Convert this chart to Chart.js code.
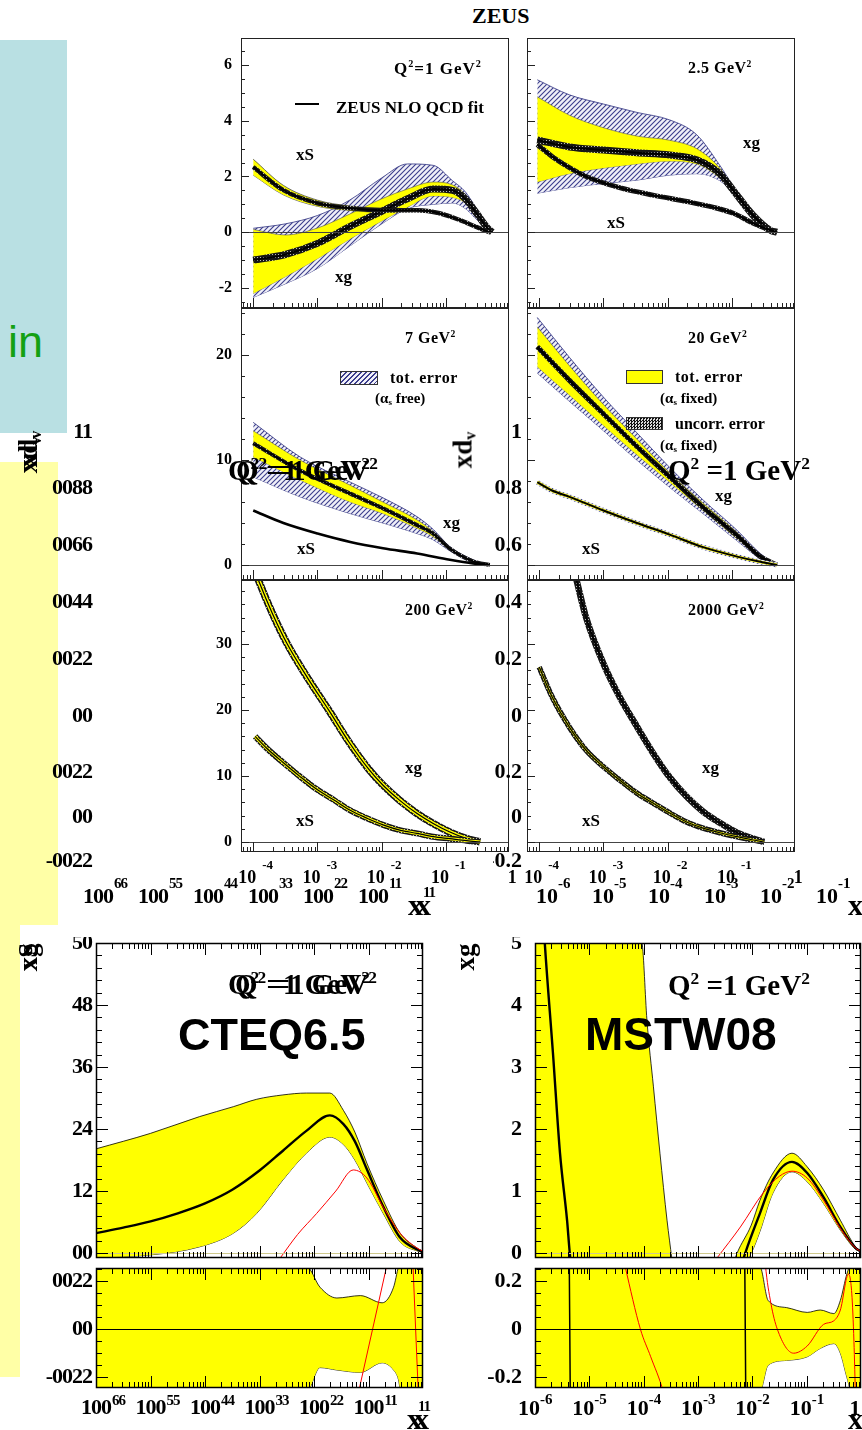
<!DOCTYPE html>
<html lang="en">
<head>
<meta charset="utf-8">
<title>ZEUS / CTEQ6.5 / MSTW08 gluon distributions</title>
<script src="https://cdn.jsdelivr.net/npm/chart.js@4.4.1/dist/chart.umd.min.js"></script>
<style>
html,body{margin:0;padding:0;width:862px;height:1430px;overflow:hidden;background:#fff;position:relative;}
canvas{position:absolute;display:block;}
.t{position:absolute;white-space:nowrap;line-height:1;font-family:"Liberation Serif","Times New Roman",serif;font-weight:bold;color:#000;}
.s{font-size:.6em;position:relative;top:-.6em;}
.u{font-size:.6em;position:relative;top:.25em;}
.box{position:absolute;}
</style>
</head>
<body>
<script>
// ---------------- DATA (x given as log10(x)) ----------------
// ZEUS panel Q2 = 1 GeV2
const zA_xS_lx = [-4.0, -3.53, -3.0, -2.49, -1.98, -1.45, -1.1, -0.78, -0.52, -0.32];
const zA_xS    = [2.34, 1.51, 1.04, 0.86, 0.79, 0.79, 0.68, 0.43, 0.18, 0.0];
const zA_xS_hi = [2.62, 1.68, 1.15, 0.94, 0.86, 0.84, 0.72, 0.47, 0.2, 0.0];
const zA_xS_lo = [2.05, 1.34, 0.93, 0.78, 0.72, 0.74, 0.64, 0.39, 0.16, 0.0];
const zA_xg_lx = [-4.0, -3.5, -3.0, -2.5, -2.0, -1.6, -1.2, -0.9, -0.7, -0.5, -0.35, -0.28];
const zA_xg     = [-1.0, -0.8, -0.4, 0.2, 0.75, 1.2, 1.55, 1.5, 1.2, 0.6, 0.14, 0.0];
const zA_xg_yhi = [0.1, -0.1, 0.15, 0.65, 1.2, 1.55, 1.8, 1.7, 1.35, 0.7, 0.18, 0.0];
const zA_xg_ylo = [-2.2, -1.6, -0.95, -0.25, 0.4, 0.9, 1.3, 1.25, 1.05, 0.5, 0.1, 0.0];
const zA_xg_thi = [0.14, 0.3, 0.6, 1.15, 1.95, 2.45, 2.4, 1.85, 1.45, 0.75, 0.2, 0.0];
const zA_xg_tlo = [-2.34, -1.85, -1.3, -0.5, 0.3, 0.85, 1.0, 1.05, 0.85, 0.4, 0.08, 0.0];
// ZEUS panel 2.5 GeV2
const zB_xg_lx  = [-4.03, -3.53, -3.0, -2.48, -1.97, -1.55, -1.19, -0.98, -0.67, -0.4, -0.3];
const zB_xg     = [3.31, 3.06, 2.95, 2.85, 2.77, 2.6, 2.1, 1.5, 0.6, 0.06, 0.0];
const zB_xg_yhi = [4.86, 4.2, 3.75, 3.45, 3.3, 3.0, 2.3, 1.6, 0.65, 0.07, 0.0];
const zB_xg_ylo = [1.8, 2.1, 2.3, 2.45, 2.55, 2.45, 1.95, 1.45, 0.56, 0.05, 0.0];
const zB_xg_thi = [5.47, 4.93, 4.6, 4.3, 4.03, 3.5, 2.4, 1.65, 0.68, 0.08, 0.0];
const zB_xg_tlo = [1.4, 1.6, 1.75, 1.87, 2.05, 2.1, 1.85, 1.4, 0.54, 0.04, 0.0];
const zB_xS_lx  = [-4.03, -3.8, -3.53, -3.27, -2.75, -2.23, -1.7, -1.3, -0.98, -0.67, -0.4, -0.3];
const zB_xS     = [3.15, 2.72, 2.32, 2.0, 1.6, 1.33, 1.1, 0.9, 0.68, 0.32, 0.07, 0.0];
// ZEUS panel 7 GeV2
const zC_xg_lx  = [-4.0, -3.27, -2.49, -1.98, -1.45, -1.2, -0.94, -0.58, -0.32];
const zC_xg     = [11.6, 9.0, 6.8, 5.4, 3.8, 3.0, 1.55, 0.35, 0.0];
const zC_xg_yhi = [12.8, 10.0, 7.6, 6.0, 4.3, 3.2, 1.65, 0.45, 0.0];
const zC_xg_ylo = [10.3, 8.1, 6.0, 4.9, 3.5, 2.7, 1.45, 0.3, 0.0];
const zC_xg_thi = [13.6, 10.3, 7.9, 6.4, 4.6, 3.4, 1.75, 0.5, 0.0];
const zC_xg_tlo = [8.4, 6.5, 4.9, 4.0, 3.0, 2.4, 1.35, 0.2, 0.0];
const zC_xS_lx  = [-4.0, -3.53, -3.0, -2.49, -1.98, -1.45, -0.94, -0.58, -0.32];
const zC_xS     = [5.2, 4.0, 3.0, 2.2, 1.6, 1.1, 0.5, 0.15, 0.0];
// ZEUS panel 20 GeV2
const zD_xg_lx  = [-4.03, -3.53, -3.0, -2.48, -1.97, -1.45, -0.92, -0.56, -0.3];
const zD_xg     = [20.8, 17.6, 14.4, 11.3, 8.4, 5.5, 2.8, 0.8, 0.0];
const zD_xg_yhi = [22.7, 19.0, 15.3, 12.0, 8.8, 5.9, 3.1, 1.0, 0.0];
const zD_xg_ylo = [18.9, 16.2, 13.3, 10.5, 7.9, 5.2, 2.5, 0.7, 0.0];
const zD_xg_thi = [23.6, 19.8, 16.0, 12.6, 9.3, 6.2, 3.3, 1.1, 0.0];
const zD_xg_tlo = [18.3, 15.6, 12.8, 10.0, 7.4, 4.9, 2.3, 0.6, 0.0];
const zD_xS_lx  = [-4.03, -3.8, -3.53, -3.0, -2.48, -1.97, -1.45, -0.92, -0.56, -0.3];
const zD_xS     = [7.9, 7.1, 6.5, 5.2, 4.0, 2.9, 1.7, 0.8, 0.3, 0.0];
// ZEUS panel 200 GeV2
const zE_xg_lx = [-4.0, -3.92, -3.7, -3.47, -3.15, -2.82, -2.5, -2.2, -1.98, -1.72, -1.45, -1.2, -0.94, -0.68, -0.47];
const zE_xg    = [41.8, 39.7, 34.6, 30.0, 24.8, 19.9, 15.0, 11.0, 8.6, 6.3, 4.3, 2.8, 1.5, 0.5, 0.0];
const zE_xS_lx = [-3.97, -3.79, -3.53, -3.27, -3.0, -2.75, -2.49, -2.23, -1.98, -1.72, -1.45, -1.2, -0.94, -0.68, -0.47];
const zE_xS    = [16.0, 14.2, 12.0, 9.9, 7.9, 6.4, 4.8, 3.6, 2.6, 1.8, 1.3, 0.8, 0.5, 0.2, 0.0];
// ZEUS panel 2000 GeV2
const zF_xg_lx = [-3.5, -3.42, -3.27, -3.0, -2.75, -2.48, -2.23, -1.97, -1.7, -1.45, -1.19, -0.92, -0.67, -0.5];
const zF_xg    = [42.8, 39.7, 34.0, 27.0, 22.0, 17.5, 13.5, 9.8, 6.8, 4.6, 2.9, 1.4, 0.5, 0.0];
const zF_xS_lx = [-4.0, -3.8, -3.53, -3.27, -3.0, -2.75, -2.48, -2.23, -1.97, -1.7, -1.45, -1.19, -0.92, -0.67, -0.5];
const zF_xS    = [26.5, 22.0, 17.4, 13.9, 11.4, 9.4, 7.4, 5.9, 4.4, 3.0, 2.1, 1.4, 0.8, 0.3, 0.0];

// CTEQ6.5 xg, Q2 = 1 GeV2
const ctCX  = [-6.0, -5.5, -5.0, -4.5, -4.0, -3.5, -3.0, -2.57, -2.14, -1.71, -1.46, -1.25, -1.03, -0.73, -0.42, -0.09, 0.0];
const ctXg  = [0.32, 0.41, 0.51, 0.64, 0.8, 1.02, 1.33, 1.65, 1.97, 2.22, 2.08, 1.8, 1.35, 0.75, 0.25, 0.05, 0.02];
const ctX   = [-6.0, -5.0, -4.1, -3.48, -3.05, -2.57, -2.14, -1.71, -1.46, -1.25, -1.03, -0.73, -0.42, -0.09, 0.0];
const ctHi  = [1.68, 1.93, 2.2, 2.36, 2.48, 2.55, 2.58, 2.58, 2.3, 1.95, 1.45, 0.85, 0.32, 0.07, 0.03];
const ctLo  = [-0.07, -0.03, 0.1, 0.32, 0.64, 1.18, 1.61, 1.87, 1.75, 1.5, 1.13, 0.64, 0.18, 0.03, 0.01];
const ctRedX = [-2.62, -2.3, -1.95, -1.6, -1.28, -1.03, -0.73, -0.42, -0.09, 0.0];
const ctRed  = [-0.08, 0.3, 0.64, 1.0, 1.34, 1.21, 0.74, 0.32, 0.07, 0.03];
const ctrX  = [-6.0, -2.13, -1.89, -1.58, -1.15, -0.75, -0.54, -0.45, -0.38, 0.0];
const ctrHi = [0.3, 0.26, 0.175, 0.13, 0.14, 0.11, 0.175, 0.26, 0.3, 0.3];
const ctrLo = [-0.3, -0.26, -0.16, -0.17, -0.18, -0.14, -0.17, -0.21, -0.3, -0.3];
const ctrRed1X = [-1.22, -0.63]; const ctrRed1 = [-0.3, 0.3];
const ctrRed2X = [-0.19, -0.08]; const ctrRed2 = [0.3, -0.3];

// MSTW08 xg, Q2 = 1 GeV2
const msBandX  = [-6.0, -4.03, -3.94, -3.82, -3.7, -3.57, -3.48];
const msBandHi = [8.0, 5.0, 3.76, 2.68, 1.61, 0.53, -0.1];
const msBandLo = [-0.5, -0.5, -0.5, -0.5, -0.5, -0.5, -0.5];
const msX  = [-5.9, -5.82, -5.67, -5.54, -5.41, -5.36, -5.25, -4.5, -3.5, -2.6, -2.2, -2.13, -1.86, -1.62, -1.27, -0.99, -0.69, -0.38, -0.1, 0.0];
const msXg = [6.2, 5.0, 3.23, 1.61, 0.53, 0.0, -0.8, -3.0, -3.0, -1.5, -0.2, 0.0, 0.64, 1.18, 1.47, 1.29, 0.9, 0.42, 0.08, 0.03];
const msBumpX  = [-2.4, -2.28, -2.02, -1.86, -1.62, -1.27, -0.99, -0.69, -0.38, -0.1, 0.0];
const msBumpHi = [-0.3, 0.0, 0.45, 0.85, 1.29, 1.61, 1.39, 1.02, 0.53, 0.1, 0.03];
const msBumpLo = [-0.5, -0.3, 0.0, 0.35, 0.97, 1.31, 1.15, 0.8, 0.37, 0.06, 0.02];
const msRedX = [-2.65, -2.22, -1.8, -1.5, -1.27, -0.99, -0.69, -0.38, -0.1, 0.0];
const msRed  = [-0.08, 0.42, 0.97, 1.24, 1.32, 1.21, 0.85, 0.4, 0.08, 0.03];
const msrX  = [-6.0, -1.86, -1.71, -1.37, -0.99, -0.75, -0.5, -0.38, -0.26, -0.12, 0.0];
const msrHi = [0.3, 0.26, 0.12, 0.09, 0.07, 0.08, 0.065, 0.12, 0.23, 0.3, 0.3];
const msrLo = [-0.3, -0.26, -0.15, -0.13, -0.115, -0.08, -0.06, -0.1, -0.2, -0.3, -0.3];
const msrV1X = [-5.37, -5.35]; const msrV1 = [0.3, -0.3];
const msrV2X = [-2.14, -2.12]; const msrV2 = [0.3, -0.3];
const msrRed1X = [-4.4, -4.34, -4.06, -3.87, -3.64, -3.6];
const msrRed1  = [0.32, 0.26, 0.0, -0.115, -0.26, -0.3];
const msrRed2X = [-1.8, -1.76, -1.66, -1.54, -1.24, -0.99, -0.69, -0.5, -0.38, -0.23, -0.17, -0.13, -0.1];
const msrRed2  = [0.4, 0.27, 0.11, 0.0, -0.1, -0.07, 0.02, 0.035, 0.08, 0.23, 0.15, -0.05, -0.3];

// ---------------- TICK LABELS ----------------
const zYTicks  = [[6, 4, 2, 0, -2], [20, 10, 0], [30, 20, 10, 0]];
const zYLabels = [['6', '4', '2', '0', '-2'], ['20', '10', '0'], ['30', '20', '10', '0']];
const zXTicks = [1e-4, 1e-3, 1e-2, 1e-1, 1];
const zXBase  = ['10', '10', '10', '10', '1'];
const zXSup   = ['-4', '-3', '-2', '-1', ''];
const bXTicks = [1e-6, 1e-5, 1e-4, 1e-3, 1e-2, 1e-1, 1];
const msXBase = ['10', '10', '10', '10', '10', '10', '1'];
const msXSup  = ['-6', '-5', '-4', '-3', '-2', '-1', ''];
const ctXBase = ['100', '100', '100', '100', '100', '100', ''];
const ctXSup  = ['66', '55', '44', '33', '22', '11', '11'];
const mainYTicks = [5, 4, 3, 2, 1, 0];
const msYLabels  = ['5', '4', '3', '2', '1', '0'];
const ctYLabels  = ['50', '48', '36', '24', '12', '00'];
const ratioYTicks = [0.2, 0, -0.2];
const msrYLabels  = ['0.2', '0', '-0.2'];
const ctrYLabels  = ['0022', '00', '-0022'];
const ghostYTicks = [1, 0.8, 0.6, 0.4, 0.2, 0];
const grYLabels   = ['1', '0.8', '0.6', '0.4', '0.2', '0'];
const glYLabels   = ['11', '0088', '0066', '0044', '0022', '00'];

// ---------------- HELPERS ----------------
const F = '"Liberation Serif","Times New Roman",serif';
const SANS = '"Liberation Sans",Arial,sans-serif';
const YEL = '#ffff00', K = '#000', NONE = 'rgba(0,0,0,0)';
function P(lx, ys) { return lx.map((v, i) => ({ x: Math.pow(10, v), y: ys[i] })); }
function ln(data, color, width, extra) {
  return Object.assign({ data, borderColor: color, borderWidth: width, backgroundColor: NONE, fill: false,
    pointRadius: 0, pointHoverRadius: 0, clip: 0, cubicInterpolationMode: 'monotone', borderJoinStyle: 'round' }, extra || {});
}
function band(hi, lo, bg, edge, ew) { return [ln(hi, edge, ew, { fill: '+1', backgroundColor: bg }), ln(lo, edge, ew)]; }
function mkPat(w, h, draw) {
  const c = document.createElement('canvas'); c.width = w; c.height = h;
  const g = c.getContext('2d'); draw(g); return g.createPattern(c, 'repeat');
}
const hatch = mkPat(5, 5, g => {
  g.fillStyle = '#f0f0f8'; g.fillRect(0, 0, 5, 5);
  g.strokeStyle = '#3b3d8c'; g.lineWidth = 1.1; g.beginPath();
  g.moveTo(-1, 6); g.lineTo(6, -1); g.moveTo(-1, 1); g.lineTo(1, -1); g.moveTo(4, 6); g.lineTo(6, 4); g.stroke();
});
const checker = mkPat(3, 3, g => { g.fillStyle = '#161616'; g.fillRect(0, 0, 3, 3); g.fillStyle = '#b8b8b8'; g.fillRect(1, 1, 1, 1); });

const decoPlugin = {
  id: 'deco',
  afterDatasetsDraw(chart) {
    const o = chart.canvas._deco; if (!o) return;
    const ctx = chart.ctx, a = chart.chartArea, x = chart.scales.x, y = chart.scales.y;
    ctx.save();
    if (o.zero) {
      const py = Math.round(y.getPixelForValue(0)) + 0.5;
      ctx.strokeStyle = o.zero; ctx.lineWidth = 1;
      ctx.beginPath(); ctx.moveTo(a.left, py); ctx.lineTo(a.right, py); ctx.stroke();
    }
    const fc = o.frame || '#000';
    if (o.xt) {
      ctx.strokeStyle = fc; ctx.lineWidth = 1; ctx.beginPath();
      const e0 = Math.floor(Math.log10(x.min)), e1 = Math.ceil(Math.log10(x.max));
      for (let e = e0; e <= e1; e++) for (let m = 1; m <= 9; m++) {
        const v = m * Math.pow(10, e);
        if (v < x.min * 1.0001 || v > x.max * 0.9999) continue;
        const px = Math.round(x.getPixelForValue(v)) + 0.5;
        const L = m === 1 ? o.xt[0] : o.xt[1];
        ctx.moveTo(px, a.bottom); ctx.lineTo(px, a.bottom - L);
        if (o.xtTop) { ctx.moveTo(px, a.top); ctx.lineTo(px, a.top + L); }
      }
      ctx.stroke();
    }
    if (o.yt) {
      const st = o.yt[0], mj = o.yt[1];
      ctx.strokeStyle = fc; ctx.lineWidth = 1; ctx.beginPath();
      for (let k = Math.ceil(y.min / st - 1e-6); k * st <= y.max + 1e-9; k++) {
        const v = k * st, r = v / mj;
        const L = Math.abs(r - Math.round(r)) < 1e-6 ? o.yt[2] : o.yt[3];
        const py = Math.round(y.getPixelForValue(v)) + 0.5;
        ctx.moveTo(a.left, py); ctx.lineTo(a.left + L, py);
        if (o.ytRight) { ctx.moveTo(a.right, py); ctx.lineTo(a.right - L, py); }
      }
      ctx.stroke();
    }
    if (o.frame) {
      ctx.strokeStyle = o.frame; ctx.lineWidth = o.fw || 1;
      ctx.strokeRect(a.left + 0.5, a.top + 0.5, a.right - a.left - 1, a.bottom - a.top - 1);
    }
    ctx.fillStyle = '#000'; ctx.textBaseline = 'middle';
    if (o.yl) {
      ctx.font = o.yl.font; ctx.textAlign = 'right';
      ctx.letterSpacing = o.yl.ls || '0px';
      o.yl.v.forEach((v, i) => ctx.fillText(o.yl.t[i], a.left - o.yl.gap, y.getPixelForValue(v)));
      ctx.letterSpacing = '0px';
    }
    if (o.xl) {
      const L = o.xl;
      ctx.letterSpacing = L.ls || '0px';
      L.v.forEach((v, i) => {
        const px = x.getPixelForValue(v);
        if (L.b[i]) {
          ctx.font = L.font; ctx.textAlign = 'center';
          ctx.fillText(L.b[i], px + (L.s[i] ? L.bdx : L.bdx1), a.bottom + L.dy);
        }
        if (L.s[i]) {
          ctx.font = L.sfont;
          if (L.b[i]) { ctx.textAlign = 'left'; ctx.fillText(L.s[i], px + L.sdx, a.bottom + L.sdy); }
          else { ctx.textAlign = 'center'; ctx.fillText(L.s[i], px + L.s1dx, a.bottom + L.s1dy); }
        }
      });
      ctx.letterSpacing = '0px';
    }
    ctx.restore();
  }
};

function mk(f, pad, datasets, xmin, xmax, ymin, ymax, deco) {
  const c = document.createElement('canvas');
  const W = f.r - f.l + pad[0] + pad[2], H = f.b - f.t + pad[1] + pad[3];
  c.width = W; c.height = H;
  c.style.left = (f.l - pad[0]) + 'px'; c.style.top = (f.t - pad[1]) + 'px';
  c.style.width = W + 'px'; c.style.height = H + 'px';
  c._deco = deco;
  document.body.appendChild(c);
  return new Chart(c, {
    type: 'line',
    data: { datasets },
    options: {
      responsive: false, animation: false, devicePixelRatio: 1, events: [],
      layout: { padding: { left: pad[0], top: pad[1], right: pad[2], bottom: pad[3] } },
      scales: {
        x: { type: 'logarithmic', min: xmin, max: xmax, display: false, bounds: 'data' },
        y: { type: 'linear', min: ymin, max: ymax, display: false, bounds: 'data' }
      },
      plugins: { legend: { display: false }, tooltip: { enabled: false } },
      elements: { point: { radius: 0 } }
    },
    plugins: [decoPlugin]
  });
}
function box(l, t, w, h, css) {
  const d = document.createElement('div'); d.className = 'box';
  d.style.cssText += `left:${l}px;top:${t}px;width:${w}px;height:${h}px;` + css;
  document.body.appendChild(d);
}
const S = t => `<span class="s">${t}</span>`;
const U = t => `<span class="u">${t}</span>`;
function T(html, x, yc, size, o) {
  o = o || {};
  const d = document.createElement('div'); d.className = 't'; d.innerHTML = html;
  d.style.fontSize = size + 'px';
  if (o.ff) d.style.fontFamily = o.ff;
  if (o.fw) d.style.fontWeight = o.fw;
  if (o.c) d.style.color = o.c;
  if (o.ls) d.style.letterSpacing = o.ls + 'px';
  if (o.rot) { d.style.left = x + 'px'; d.style.top = yc + 'px'; d.style.transform = 'translate(-50%,-50%) rotate(-90deg)'; }
  else { d.style.left = x + 'px'; d.style.top = (yc - size / 2) + 'px'; }
  document.body.appendChild(d);
}

// ---------------- BACKGROUND BOXES ----------------
box(0, 40, 67, 393, 'background:#b9e0e3;');
box(0, 462, 58, 463, 'background:#ffffa6;');
box(0, 925, 20, 452, 'background:#ffffa6;');

// ---------------- ZEUS PANELS ----------------
const ZX0 = Math.pow(10, -4.19), ZX1 = Math.pow(10, -0.02);
const zCols = [[241, 509], [527, 795]];
const zRows = [[38, 308, -2.72, 6.97], [308, 580, -1.43, 24.5], [580, 852, -1.52, 39.7]];
const zYt = [[0.5, 2], [2, 10], [2, 10]];

const dsA = [
  ln(P(zA_xS_lx, zA_xS), K, 1.8),
  ln(P(zA_xS_lx, zA_xS), checker, 4.5),
  ln(P(zA_xg_lx, zA_xg), K, 1.8),
  ln(P(zA_xg_lx, zA_xg), checker, 7),
  ...band(P(zA_xS_lx, zA_xS_hi), P(zA_xS_lx, zA_xS_lo), YEL, '#333', 0.7),
  ...band(P(zA_xg_lx, zA_xg_yhi), P(zA_xg_lx, zA_xg_ylo), YEL, '#555', 0.6),
  ...band(P(zA_xg_lx, zA_xg_thi), P(zA_xg_lx, zA_xg_tlo), hatch, '#2e3180', 0.8)
];
const dsB = [
  ln(P(zB_xS_lx, zB_xS), K, 2),
  ln(P(zB_xS_lx, zB_xS), checker, 5),
  ln(P(zB_xg_lx, zB_xg), K, 2),
  ln(P(zB_xg_lx, zB_xg), checker, 7),
  ...band(P(zB_xg_lx, zB_xg_yhi), P(zB_xg_lx, zB_xg_ylo), YEL, '#555', 0.6),
  ...band(P(zB_xg_lx, zB_xg_thi), P(zB_xg_lx, zB_xg_tlo), hatch, '#2e3180', 0.8)
];
const dsC = [
  ln(P(zC_xS_lx, zC_xS), K, 2.6),
  ln(P(zC_xg_lx, zC_xg), K, 1.5),
  ln(P(zC_xg_lx, zC_xg), checker, 4),
  ...band(P(zC_xg_lx, zC_xg_yhi), P(zC_xg_lx, zC_xg_ylo), YEL, '#555', 0.6),
  ...band(P(zC_xg_lx, zC_xg_thi), P(zC_xg_lx, zC_xg_tlo), hatch, '#2e3180', 0.8)
];
const dsD = [
  ln(P(zD_xS_lx, zD_xS), K, 2),
  ln(P(zD_xS_lx, zD_xS), YEL, 3),
  ln(P(zD_xS_lx, zD_xS), hatch, 5),
  ln(P(zD_xg_lx, zD_xg), K, 2.5),
  ln(P(zD_xg_lx, zD_xg), checker, 5),
  ...band(P(zD_xg_lx, zD_xg_yhi), P(zD_xg_lx, zD_xg_ylo), YEL, '#555', 0.6),
  ...band(P(zD_xg_lx, zD_xg_thi), P(zD_xg_lx, zD_xg_tlo), hatch, '#2e3180', 0.8)
];
const dsE = [
  ln(P(zE_xS_lx, zE_xS), K, 1.2),
  ln(P(zE_xS_lx, zE_xS), YEL, 3),
  ln(P(zE_xS_lx, zE_xS), checker, 6),
  ln(P(zE_xg_lx, zE_xg), K, 1.2),
  ln(P(zE_xg_lx, zE_xg), YEL, 4),
  ln(P(zE_xg_lx, zE_xg), checker, 7.5)
];
const dsF = [
  ln(P(zF_xS_lx, zF_xS), K, 1.2),
  ln(P(zF_xS_lx, zF_xS), YEL, 2),
  ln(P(zF_xS_lx, zF_xS), checker, 5.5),
  ln(P(zF_xg_lx, zF_xg), K, 1.5),
  ln(P(zF_xg_lx, zF_xg), checker, 6.5)
];
const zPanels = [[0, 0, dsA], [0, 1, dsB], [1, 0, dsC], [1, 1, dsD], [2, 0, dsE], [2, 1, dsF]];
zPanels.forEach(([r, c, ds]) => {
  const f = { l: zCols[c][0], r: zCols[c][1], t: zRows[r][0], b: zRows[r][1] };
  const deco = { frame: '#222', fw: 1, zero: '#444', xt: [10, 5], yt: [zYt[r][0], zYt[r][1], 8, 4] };
  if (c === 0) deco.yl = { v: zYTicks[r], t: zYLabels[r], gap: 9, font: `bold 16px ${F}` };
  if (r === 2) deco.xl = { v: zXTicks, b: zXBase, s: zXSup, font: `bold 18px ${F}`, sfont: `bold 13px ${F}`,
    bdx: -6, bdx1: 2, sdx: 9, dy: 26, sdy: 14 };
  mk(f, [45, 4, 16, r === 2 ? 42 : 4], ds, ZX0, ZX1, zRows[r][2], zRows[r][3], deco);
});

// ---------------- BOTTOM PLOTS ----------------
const mainDeco = (labels, gap, ls) => ({ frame: '#000', fw: 1.5, zero: '#cfc98c', xt: [12, 6], xtTop: true,
  yt: [0.2, 1, 12, 6], ytRight: true, yl: { v: mainYTicks, t: labels, gap, font: `bold 22px ${F}`, ls } });
const ratioDeco = (labels, gap, ls, xl) => ({ frame: '#000', fw: 1.5, zero: '#000', xt: [12, 6], xtTop: true,
  yt: [0.05, 0.2, 12, 6], ytRight: true, yl: { v: ratioYTicks, t: labels, gap, font: `bold 22px ${F}`, ls }, xl });
const ctXL = { v: bXTicks, b: ctXBase, s: ctXSup, font: `bold 22px ${F}`, sfont: `bold 15px ${F}`, ls: '-1px',
  bdx: 0, bdx1: 0, sdx: 16, dy: 20, sdy: 13, s1dx: 1, s1dy: 19 };
const msXL = { v: bXTicks, b: msXBase, s: msXSup, font: `bold 22px ${F}`, sfont: `bold 15px ${F}`,
  bdx: -6, bdx1: -6, sdx: 5, dy: 21, sdy: 12 };

// CTEQ6.5
mk({ l: 96, r: 423, t: 943, b: 1258 }, [60, 6, 12, 6], [
  ln(P(ctRedX, ctRed), '#ff0000', 1),
  ln(P(ctCX, ctXg), K, 2.4),
  ...band(P(ctX, ctHi), P(ctX, ctLo), YEL, K, 0.8)
], 1e-6, 1, -0.08, 5, mainDeco(ctYLabels, 4, '-1px'));
mk({ l: 96, r: 423, t: 1268, b: 1388 }, [70, 6, 14, 42], [
  ln(P(ctrRed1X, ctrRed1), '#ff0000', 1),
  ln(P(ctrRed2X, ctrRed2), '#ff0000', 1),
  ...band(P(ctrX, ctrHi), P(ctrX, ctrLo), YEL, K, 0.8)
], 1e-6, 1, -0.245, 0.255, ratioDeco(ctrYLabels, 4, '-1px', ctXL));

// MSTW08
mk({ l: 535, r: 861, t: 943, b: 1258 }, [60, 6, 12, 6], [
  ln(P(msRedX, msRed), '#ff0000', 1),
  ln(P(msX, msXg), K, 2.4),
  ...band(P(msBumpX, msBumpHi), P(msBumpX, msBumpLo), YEL, K, 0.8),
  ...band(P(msBandX, msBandHi), P(msBandX, msBandLo), YEL, K, 0.8)
], 1e-6, 1, -0.08, 5, mainDeco(msYLabels, 13));
mk({ l: 535, r: 861, t: 1268, b: 1388 }, [70, 6, 14, 42], [
  ln(P(msrRed1X, msrRed1), '#ff0000', 1),
  ln(P(msrRed2X, msrRed2), '#ff0000', 1),
  ln(P(msrV1X, msrV1), K, 1.5),
  ln(P(msrV2X, msrV2), K, 1.5),
  ...band(P(msrX, msrHi), P(msrX, msrLo), YEL, K, 0.8)
], 1e-6, 1, -0.245, 0.255, ratioDeco(msrYLabels, 13, '0px', msXL));

// ---------------- GHOST AXES (xd_v plots hidden behind ZEUS figure) ----------------
mk({ l: 98, r: 428, t: 432, b: 716 }, [60, 14, 4, 14], [], 1e-6, 1, 0, 1,
  { yl: { v: ghostYTicks, t: glYLabels, gap: 6, font: `bold 22px ${F}`, ls: '-1px' } });
mk({ l: 98, r: 428, t: 761, b: 873 }, [60, 14, 20, 40], [], 1e-6, 1, -0.25, 0.25,
  { yl: { v: ratioYTicks, t: ctrYLabels, gap: 6, font: `bold 22px ${F}`, ls: '-1px' },
    xl: Object.assign({}, ctXL, { dy: 24, sdy: 11, s1dy: 20 }) });
mk({ l: 553, r: 889, t: 432, b: 716 }, [60, 14, 4, 14], [], 1e-6, 1, 0, 1,
  { yl: { v: ghostYTicks, t: grYLabels, gap: 31, font: `bold 22px ${F}` } });
mk({ l: 553, r: 889, t: 761, b: 873 }, [60, 14, 20, 40], [], 1e-6, 1, -0.25, 0.25,
  { yl: { v: ratioYTicks, t: msrYLabels, gap: 31, font: `bold 22px ${F}` },
    xl: Object.assign({}, msXL, { dy: 24, sdy: 11 }) });

// ---------------- TEXT ----------------
T('ZEUS', 472, 16, 22);
T(`Q${S(2)}=1 GeV${S(2)}`, 394, 68, 17, { ls: 1 });
box(295, 103, 24, 1.5, 'background:#000;');
T('ZEUS NLO QCD fit', 336, 107, 17);
T('xS', 296, 154, 17); T('xg', 335, 276, 17);
T(`2.5 GeV${S(2)}`, 688, 68, 16, { ls: 0.5 });
T('xg', 743, 142, 17); T('xS', 607, 222, 17);
T(`7 GeV${S(2)}`, 405, 338, 16, { ls: 0.5 });
box(340, 371, 36, 12, 'border:1px solid #333;background:repeating-linear-gradient(135deg,#3b3d8c 0 1px,#f0f0f8 1px 3.5px);');
T('tot. error', 390, 378, 16, { ls: 0.5 }); T(`(α${U('s')} free)`, 375, 398, 15);
T('xg', 443, 522, 17); T('xS', 297, 548, 17);
T(`20 GeV${S(2)}`, 688, 338, 16, { ls: 0.5 });
box(626, 370, 35, 12, 'border:1px solid #333;background:#ffff00;');
T('tot. error', 675, 377, 16, { ls: 0.5 }); T(`(α${U('s')} fixed)`, 660, 398, 15);
box(626, 417, 35, 11, 'border:1px solid #333;background:repeating-conic-gradient(#111 0 25%,#ddd 0 50%) 0 0/3px 3px;');
T('uncorr. error', 675, 424, 16); T(`(α${U('s')} fixed)`, 660, 445, 15);
T('xg', 715, 495, 17); T('xS', 582, 548, 17);
T(`200 GeV${S(2)}`, 405, 610, 16, { ls: 0.5 }); T('xg', 405, 767, 17); T('xS', 296, 820, 17);
T(`2000 GeV${S(2)}`, 688, 610, 16, { ls: 0.5 }); T('xg', 702, 767, 17); T('xS', 582, 820, 17);

T('in', 8, 341, 45, { ff: SANS, fw: 'normal', c: '#13a013' });
const QT = `Q${S(2)} =1 GeV${S(2)}`;
T(QT, 228, 470, 29); T(QT, 236, 470, 29);
T(QT, 668, 470, 29);
T(QT, 228, 984, 29); T(QT, 235, 984, 29);
T(QT, 668, 985, 29);
T('CTEQ6.5', 178, 1034, 45, { ff: SANS });
T('MSTW08', 585, 1034, 46, { ff: SANS });
T(`xd${U('v')}`, 28, 455, 27, { rot: true }); T(`xd${U('v')}`, 28, 449, 27, { rot: true });
T(`xd${U('v')}`, 463, 450, 27, { rot: true });
T('xg', 28, 957, 27, { rot: true }); T('xS', 28, 957, 27, { rot: true });
T('xg', 465, 957, 27, { rot: true });
T('x', 408, 905, 30); T('x', 416, 905, 30);
T('x', 848, 905, 30);
T('x', 407, 1419, 30); T('x', 414, 1419, 30);
T('x', 848, 1419, 30);
</script>
</body>
</html>
